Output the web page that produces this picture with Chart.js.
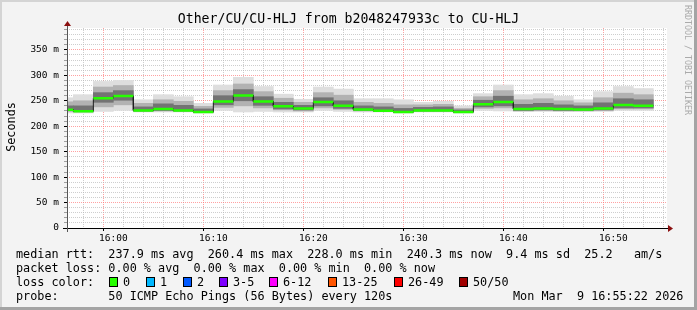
<!DOCTYPE html>
<html>
<head>
<meta charset="utf-8">
<script src="https://cdn.jsdelivr.net/npm/chart.js@4.4.1/dist/chart.umd.min.js"></script>
<style>
  body { margin: 0; background: #f3f3f3; }
  #wrap { position: relative; width: 697px; height: 310px; overflow: hidden;
          font-family: "DejaVu Sans Mono", monospace; color: #000; }
  canvas { position: absolute; left: 0; top: 0; }
  .t { position: absolute; white-space: pre; font-size: 11.8px; line-height: 14px; }
  .box { position: absolute; width: 7px; height: 8px; border: 1px solid #000; top: 277px; }
  .frame { position: absolute; }
</style>
</head>
<body>
<div id="wrap">
  <canvas id="smoke" width="697" height="310"></canvas>

  <div class="t" style="left:0;width:697px;top:11px;text-align:center;font-size:13.2px;line-height:16px;">Other/CU/CU-HLJ from b2048247933c to CU-HLJ</div>
  <div class="t" style="left:-17px;top:120px;transform:rotate(-90deg);width:56px;text-align:center;">Seconds</div>
  <div class="t" style="left:633px;top:55px;transform:rotate(90deg);width:110px;text-align:center;font-size:8.3px;line-height:10px;color:#aaaaaa;">RRDTOOL / TOBI OETIKER</div>

  <div class="t" style="left:16px;top:247px;">median rtt:  237.9 ms avg  260.4 ms max  228.0 ms min  240.3 ms now  9.4 ms sd  25.2   am/s</div>
  <div class="t" style="left:16px;top:261px;">packet loss: 0.00 % avg  0.00 % max  0.00 % min  0.00 % now</div>
  <div class="t" style="left:16px;top:275px;">loss color:</div>
  <div id="lossLegend"></div>
  <div class="t" style="left:16px;top:289px;">probe:       50 ICMP Echo Pings (56 Bytes) every 120s</div>
  <div class="t" style="left:513px;top:289px;">Mon Mar  9 16:55:22 2026</div>

  <div class="frame" style="left:0;top:0;width:697px;height:2px;background:#d4d4d4;"></div>
  <div class="frame" style="left:0;top:0;width:2px;height:310px;background:#d4d4d4;"></div>
  <div class="frame" style="left:694px;top:0;width:3px;height:310px;background:#a4a4a4;"></div>
  <div class="frame" style="left:0;top:307px;width:697px;height:3px;background:#a4a4a4;"></div>
</div>

<script>
// step start times, minutes after midnight (each step is one 120s probe round)
const stepStart = [954, 956, 958, 960, 962, 964, 966, 968, 970, 972,
                   974, 976, 978, 980, 982, 984, 986, 988, 990, 992,
                   994, 996, 998, 1000, 1002, 1004, 1006, 1008, 1010, 1012];
const STEP = 2;

// median rtt (ms)
const median = [232.5, 229.5, 255, 259.5, 231, 234, 231, 228, 248.5, 260.4,
                248.5, 239, 235, 247.5, 240, 233, 230.5, 228, 231, 231,
                228, 243, 247.5, 234, 235, 234, 233, 235, 241.5, 240.3];

// smoke: outer range (min..max ping)
const smokeLo = [226, 226, 229, 231, 228, 228, 228, 226, 231, 228,
                 229, 228, 228, 231, 229, 228, 228, 226, 228, 228,
                 226, 231, 230, 229, 229, 229, 229, 229, 231, 231];
const smokeHi = [256, 262, 288, 290, 252, 262, 258, 245, 281, 296,
                 278, 263, 253, 277, 273, 254, 254, 252, 247, 249,
                 240, 264, 281, 262, 264, 259, 252, 268, 278, 274];
// smoke: middle band
const midLo = [229, 228, 238, 242, 229, 230, 229, 227, 237, 240,
               236, 232, 230, 236, 233, 230, 229, 227, 229, 229,
               227, 235, 236, 230, 231, 230, 230, 231, 234, 234];
const midHi = [248, 250, 277, 280, 245, 252, 249, 239, 270, 283,
               268, 255, 247, 266, 261, 247, 245, 242, 242, 243,
               235, 258, 270, 252, 254, 250, 246, 256, 265, 262];
// smoke: dense core
const coreLo = [231, 229, 247, 251, 230, 231, 230, 227, 242, 250,
                241, 234, 232, 240, 235, 231, 229, 227, 230, 230,
                227, 238, 240, 231, 232, 231, 231, 232, 236, 236];
const coreHi = [240, 240, 266, 270, 238, 244, 241, 234, 260, 272,
                258, 247, 241, 256, 250, 240, 238, 235, 237, 238,
                232, 251, 259, 243, 245, 242, 240, 246, 254, 252];

const xTickValues = [960, 970, 980, 990, 1000, 1010];
const xTickLabels = ['16:00', '16:10', '16:20', '16:30', '16:40', '16:50'];
const yTickValues = [0, 50, 100, 150, 200, 250, 300, 350];
const yTickLabels = ['0', '50 m', '100 m', '150 m', '200 m', '250 m', '300 m', '350 m'];

const lossLabels = ['0', '1', '2', '3-5', '6-12', '13-25', '26-49', '50/50'];
const lossColors = ['#26ff00', '#00b8ff', '#0059ff', '#7e00ff', '#ff00ff', '#ff5500', '#ff0000', '#a10000'];
const lossBoxX = [109, 146, 183, 219, 269, 328, 394, 459];

// loss colour legend
const legendEl = document.getElementById('lossLegend');
lossLabels.forEach((lab, i) => {
  const b = document.createElement('div');
  b.className = 'box';
  b.style.left = lossBoxX[i] + 'px';
  b.style.background = lossColors[i];
  legendEl.appendChild(b);
  const t = document.createElement('div');
  t.className = 't';
  t.style.left = (lossBoxX[i] + 14) + 'px';
  t.style.top = '275px';
  t.textContent = lab;
  legendEl.appendChild(t);
});

function bandData(lo, hi) {
  return stepStart.map((s, i) => ({ x: s + STEP / 2, y: [lo[i], hi[i]] }));
}

// black median line (continuous steps) and green loss-colour segments
const medianLine = [];
const greenLine = [];
stepStart.forEach((s, i) => {
  medianLine.push({ x: s, y: median[i] }, { x: s + STEP, y: median[i] });
  greenLine.push({ x: s, y: median[i] }, { x: s + STEP, y: median[i] }, { x: s + STEP, y: null });
});

const MAJOR = 'rgba(255,110,110,0.65)';
const MINOR = 'rgba(180,180,180,0.65)';

const plotBg = {
  id: 'plotBg',
  beforeDraw(chart) {
    const { ctx, chartArea: a } = chart;
    ctx.save();
    ctx.fillStyle = '#ffffff';
    ctx.fillRect(a.left, a.top, a.right - a.left, a.bottom - a.top);
    ctx.restore();
  },
  afterDatasetsDraw(chart) {
    const { ctx, chartArea: a } = chart;
    const x0 = Math.round(a.left) + 0.5;
    const y0 = Math.round(a.bottom) + 0.5;
    ctx.save();
    ctx.strokeStyle = '#000';
    ctx.lineWidth = 1;
    ctx.beginPath();
    ctx.moveTo(a.left - 4, y0);
    ctx.lineTo(a.right + 2, y0);
    ctx.stroke();
    ctx.strokeStyle = '#555';
    ctx.beginPath();
    ctx.moveTo(x0, a.bottom + 4);
    ctx.lineTo(x0, a.top - 3);
    ctx.stroke();
    // arrows
    ctx.fillStyle = '#8b1010';
    ctx.beginPath();
    ctx.moveTo(a.right + 6, y0);
    ctx.lineTo(a.right + 1, y0 - 3.5);
    ctx.lineTo(a.right + 1, y0 + 3.5);
    ctx.closePath();
    ctx.fill();
    ctx.beginPath();
    ctx.moveTo(x0, a.top - 7);
    ctx.lineTo(x0 - 3.5, a.top - 2);
    ctx.lineTo(x0 + 3.5, a.top - 2);
    ctx.closePath();
    ctx.fill();
    ctx.restore();
  }
};

const barOpts = { type: 'bar', grouped: false, barPercentage: 1, categoryPercentage: 1,
                  borderWidth: 0, clip: 0 };

new Chart(document.getElementById('smoke'), {
  type: 'bar',
  data: {
    datasets: [
      { ...barOpts, order: 5, data: bandData(smokeLo, smokeHi), backgroundColor: '#dedede' },
      { ...barOpts, order: 4, data: bandData(midLo, midHi), backgroundColor: '#b2b2b2' },
      { ...barOpts, order: 3, data: bandData(coreLo, coreHi), backgroundColor: '#737373' },
      { type: 'line', order: 2, data: medianLine, borderColor: '#202020', borderWidth: 1,
        pointRadius: 0, clip: 0 },
      { type: 'line', order: 1, data: greenLine, borderColor: '#26ff00', borderWidth: 2.5,
        borderCapStyle: 'butt', pointRadius: 0, spanGaps: false, clip: 0 }
    ]
  },
  options: {
    responsive: false,
    animation: false,
    devicePixelRatio: 1,
    events: [],
    layout: { padding: { top: 28, right: 30, bottom: 0, left: 0 } },
    plugins: { legend: { display: false }, tooltip: { enabled: false } },
    scales: {
      x: {
        type: 'linear',
        offset: false,
        min: 955 + 22 / 60,
        max: 1015 + 22 / 60,
        afterBuildTicks(scale) {
          const t = [];
          for (let v = 956; v <= 1014; v += 2) t.push({ value: v });
          scale.ticks = t;
        },
        afterFit(scale) { scale.height = 82; },
        border: { display: false, dash: [1, 1] },
        grid: {
          color: c => (c.tick && c.tick.value % 10 === 0 ? MAJOR : MINOR),
          tickColor: c => (c.tick && c.tick.value % 10 === 0 ? '#000' : 'rgba(0,0,0,0)'),
          tickLength: 3
        },
        ticks: {
          autoSkip: false,
          maxRotation: 0,
          padding: 2,
          color: '#000',
          font: { family: 'DejaVu Sans Mono', size: 9.5 },
          callback: v => {
            const i = xTickValues.indexOf(v);
            return i >= 0 ? xTickLabels[i] : '';
          }
        }
      },
      y: {
        type: 'linear',
        min: 0,
        max: 393,
        afterBuildTicks(scale) {
          const t = [];
          for (let v = 0; v <= 390; v += 10) t.push({ value: v });
          scale.ticks = t;
        },
        afterFit(scale) { scale.width = 67; },
        border: { display: false, dash: [1, 1] },
        grid: {
          color: c => (c.tick && c.tick.value % 50 === 0 ? MAJOR : MINOR),
          tickColor: c => (c.tick && c.tick.value % 50 === 0 ? '#000' : 'rgba(0,0,0,0.35)'),
          tickLength: 3
        },
        ticks: {
          autoSkip: false,
          padding: 5,
          color: '#000',
          font: { family: 'DejaVu Sans Mono', size: 9.5 },
          callback: v => {
            const i = yTickValues.indexOf(v);
            return i >= 0 ? yTickLabels[i] : '';
          }
        }
      }
    }
  },
  plugins: [plotBg]
});
</script>
</body>
</html>
